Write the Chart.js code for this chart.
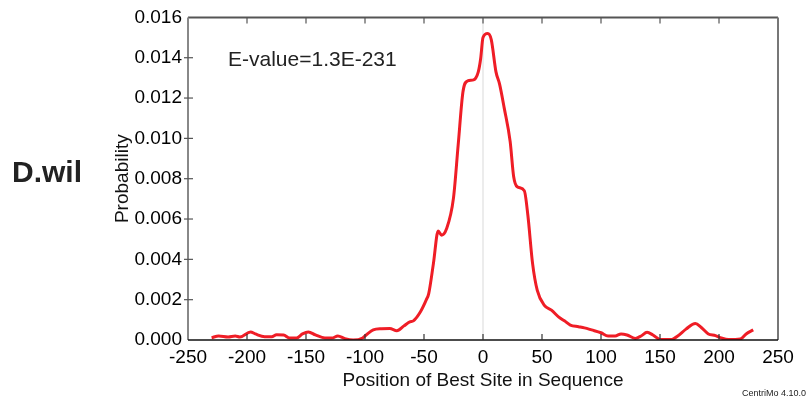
<!DOCTYPE html>
<html>
<head>
<meta charset="utf-8">
<script src="https://cdn.jsdelivr.net/npm/chart.js@4/dist/chart.umd.min.js"></script>
<style>
  html, body { margin: 0; padding: 0; background: #fff; }
  #wrap { width: 809px; height: 400px; }
</style>
</head>
<body>
<div id="wrap"><canvas id="centrimoChart" width="809" height="400"></canvas></div>
<script>
'use strict';

/* data */
var positions = [-230, -224, -216, -210, -206, -197, -193, -185, -179, -175, -169, -164, -158, -153, -148, -142,
  -134, -128, -123, -117, -110, -102, -98, -93, -86, -79, -73, -67, -62, -59, -53, -48, -46, -42, -38, -35, -31,
  -25, -21, -17, -13, -8, -4, -2, 0, 4, 7, 11, 14, 18, 23, 26, 29, 35, 38, 42, 46, 52, 58, 64, 69, 74, 81, 86,
  92, 100, 106, 112, 117, 122, 129, 134, 139, 144, 150, 160, 165, 172, 180, 185, 191, 197, 202, 208, 218, 223, 229];
var probability = [0.00011, 0.0002, 0.00015, 0.0002, 0.00015, 0.0004, 0.0003, 0.00016, 0.00016, 0.00026, 0.00025,
  0.0001, 0.0001, 0.0003, 0.0004, 0.00025, 0.0001, 0.0001, 0.0002, 0.00007, 0.0, 0.0001, 0.0003, 0.0005, 0.00056,
  0.00057, 0.00046, 0.0007, 0.0009, 0.00095, 0.0014, 0.002, 0.0023, 0.0038, 0.0054, 0.0052, 0.0055, 0.00705,
  0.0097, 0.0123, 0.01285, 0.0129, 0.0133, 0.01395, 0.0150, 0.0152, 0.0149, 0.0133, 0.0127, 0.0115, 0.00985,
  0.0081, 0.0076, 0.0074, 0.0062, 0.0038, 0.00246, 0.00172, 0.00148, 0.00115, 0.00095, 0.00074, 0.00066, 0.0006,
  0.0005, 0.00036, 0.0002, 0.0002, 0.0003, 0.00025, 0.00008, 0.0002, 0.00038, 0.00025, 0.00003, 0.00003, 0.0002,
  0.00054, 0.00082, 0.00062, 0.0003, 0.00022, 0.0001, 0.00002, 0.00005, 0.0003, 0.0005];
var xTicks = [-250, -200, -150, -100, -50, 0, 50, 100, 150, 200, 250];
var yTicks = [0, 0.002, 0.004, 0.006, 0.008, 0.01, 0.012, 0.014, 0.016];

var FONT = '"Liberation Sans", Arial, Helvetica, sans-serif';

var points = [];
for (var i = 0; i < positions.length; i++) {
  points.push({ x: positions[i], y: probability[i] });
}

/* frame, inward ticks, zero line and the texts */
var framePlugin = {
  id: 'frame',
  beforeDatasetsDraw: function (chart) {
    var ctx = chart.ctx;
    var area = chart.chartArea;
    var x0 = chart.scales.x.getPixelForValue(0);
    ctx.save();
    ctx.strokeStyle = '#e6e6e6';
    ctx.lineWidth = 1.5;
    ctx.beginPath();
    ctx.moveTo(x0, area.top);
    ctx.lineTo(x0, area.bottom);
    ctx.stroke();
    ctx.restore();
  },
  afterDraw: function (chart) {
    var ctx = chart.ctx;
    var area = chart.chartArea;
    var xs = chart.scales.x;
    var ys = chart.scales.y;
    ctx.save();

    // top and right border
    ctx.strokeStyle = '#555';
    ctx.lineWidth = 2;
    ctx.beginPath();
    ctx.moveTo(area.left, area.top);
    ctx.lineTo(area.right, area.top);
    ctx.stroke();
    ctx.strokeStyle = '#777';
    ctx.beginPath();
    ctx.moveTo(area.right, area.top);
    ctx.lineTo(area.right, area.bottom);
    ctx.stroke();

    // left axis
    ctx.strokeStyle = '#888';
    ctx.beginPath();
    ctx.moveTo(area.left, area.top);
    ctx.lineTo(area.left, area.bottom);
    ctx.stroke();

    // bottom axis
    ctx.strokeStyle = '#111';
    ctx.lineWidth = 1.5;
    ctx.beginPath();
    ctx.moveTo(area.left, area.bottom);
    ctx.lineTo(area.right, area.bottom);
    ctx.stroke();

    // x ticks, inward at top and bottom
    ctx.lineWidth = 1.2;
    for (var i = 1; i < xTicks.length - 1; i++) {
      var px = xs.getPixelForValue(xTicks[i]);
      ctx.strokeStyle = '#555';
      ctx.beginPath();
      ctx.moveTo(px, area.top);
      ctx.lineTo(px, area.top + 6);
      ctx.stroke();
      ctx.strokeStyle = '#333';
      ctx.beginPath();
      ctx.moveTo(px, area.bottom);
      ctx.lineTo(px, area.bottom - 6);
      ctx.stroke();
    }
    // y ticks, across the axis
    ctx.strokeStyle = '#555';
    for (var j = 1; j < yTicks.length - 1; j++) {
      var py = ys.getPixelForValue(yTicks[j]);
      ctx.beginPath();
      ctx.moveTo(area.left - 4, py);
      ctx.lineTo(area.left + 5, py);
      ctx.stroke();
    }

    // texts
    ctx.fillStyle = '#222';
    ctx.textBaseline = 'alphabetic';
    ctx.font = '21px ' + FONT;
    ctx.textAlign = 'left';
    ctx.fillText('E-value=1.3E-231', 228, 66);

    ctx.fillStyle = '#111';
    ctx.font = '19px ' + FONT;
    ctx.textAlign = 'center';
    ctx.fillText('Position of Best Site in Sequence', (area.left + area.right) / 2, 386);

    ctx.save();
    ctx.translate(128, (area.top + area.bottom) / 2);
    ctx.rotate(-Math.PI / 2);
    ctx.fillText('Probability', 0, 0);
    ctx.restore();

    ctx.fillStyle = '#222';
    ctx.font = 'bold 30px ' + FONT;
    ctx.textAlign = 'left';
    ctx.fillText('D.wil', 12, 182);

    ctx.font = '9px ' + FONT;
    ctx.textAlign = 'right';
    ctx.fillText('CentriMo 4.10.0', 806, 396);
    ctx.restore();
  }
};

var chartCtx = document.getElementById('centrimoChart').getContext('2d');
var chart = new Chart(chartCtx, {
  type: 'line',
  data: {
    datasets: [{
      label: 'D.wil',
      data: points,
      borderColor: '#ef1d26',
      borderWidth: 3,
      pointRadius: 0,
      fill: false,
      cubicInterpolationMode: 'monotone'
    }]
  },
  options: {
    responsive: false,
    animation: false,
    layout: { padding: { left: 0, right: 31, top: 15, bottom: 0 } },
    plugins: { legend: { display: false }, tooltip: { enabled: false } },
    scales: {
      x: {
        type: 'linear',
        min: -250,
        max: 250,
        afterBuildTicks: function (scale) {
          scale.ticks = xTicks.map(function (v) { return { value: v }; });
        },
        afterFit: function (scale) { scale.height = 60; },
        grid: { display: false, drawTicks: false },
        border: { display: false },
        ticks: { color: '#000', padding: 6, maxRotation: 0, font: { size: 19, family: FONT } }
      },
      y: {
        min: 0,
        max: 0.016,
        afterBuildTicks: function (scale) {
          scale.ticks = yTicks.map(function (v) { return { value: v }; });
        },
        afterFit: function (scale) { scale.width = 188; },
        grid: { display: false, drawTicks: false },
        border: { display: false },
        ticks: {
          color: '#000',
          padding: 6,
          font: { size: 19, family: FONT },
          callback: function (v) { return v.toFixed(3); }
        }
      }
    }
  },
  plugins: [framePlugin]
});
</script>
</body>
</html>
